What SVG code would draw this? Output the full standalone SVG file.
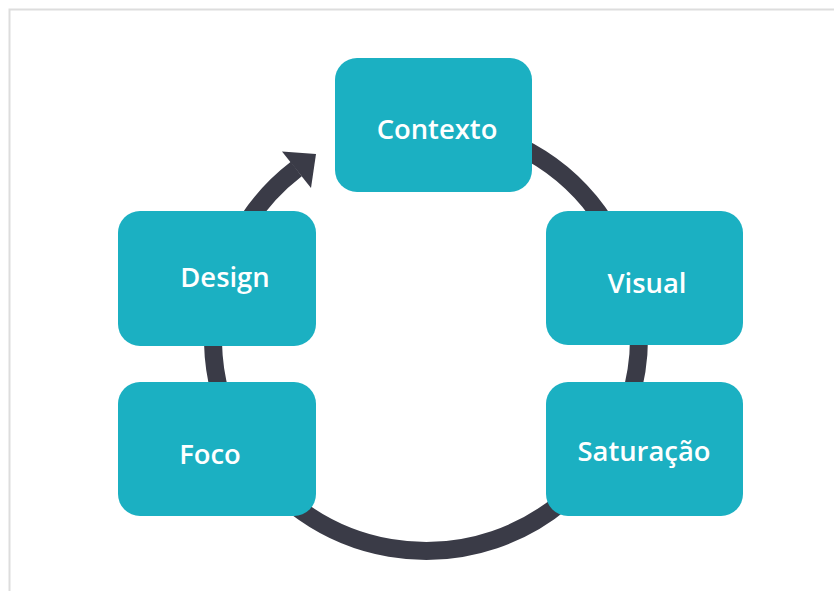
<svg xmlns="http://www.w3.org/2000/svg" width="834" height="591" viewBox="0 0 834 591">
<style>
.box{fill:#1BB0C2;}
.lbl{fill:#FFFFFF;font-family:"Open Sans","Noto Sans","DejaVu Sans",sans-serif;font-weight:600;font-size:27.4px;text-anchor:middle;}
.ring{fill:none;stroke:#3A3B47;stroke-width:18;}
</style>
<rect x="9.5" y="9.5" width="900" height="900" fill="#FFFFFF" stroke="#DDDDDD" stroke-width="2"/>
<g id="connectors">
<path class="ring" d="M 426 125 A 213 213 0 1 1 296.3 169"/>
<polygon points="282,151.5 316,154 311,188" fill="#3A3B47"/>
</g>
<g id="contexto"><rect class="box" x="335" y="58" width="197" height="134" rx="22"/><text class="lbl" x="437" y="139">Contexto</text></g>
<g id="visual"><rect class="box" x="546" y="211" width="197" height="134" rx="22"/><text class="lbl" x="647" y="293">Visual</text></g>
<g id="saturacao"><rect class="box" x="546" y="382" width="197" height="134" rx="22"/><text class="lbl" x="644" y="461">Saturação</text></g>
<g id="foco"><rect class="box" x="118" y="382" width="198" height="134" rx="22"/><text class="lbl" x="210" y="464">Foco</text></g>
<g id="design"><rect class="box" x="118" y="211" width="198" height="135" rx="22"/><text class="lbl" x="225" y="287">Design</text></g>
</svg>
